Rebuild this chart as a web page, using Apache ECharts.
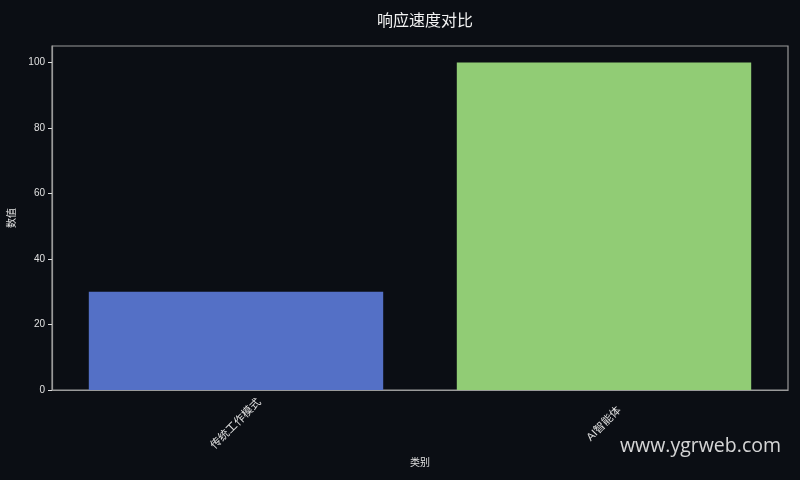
<!DOCTYPE html>
<html>
<head>
<meta charset="utf-8">
<title>响应速度对比</title>
<script src="https://cdn.jsdelivr.net/npm/echarts@6/dist/echarts.min.js"></script>
<style>
  html, body { margin: 0; padding: 0; background: #0b0e14; }
  #chart { width: 800px; height: 480px; }
</style>
</head>
<body>
<div id="chart"></div>
<script>
var categories = ['传统工作模式', 'AI智能体'];
var values = [30, 100];
var barColors = ['#5470c6', '#91cc75'];
var yTicks = [0, 20, 40, 60, 80, 100];

var font = '"Liberation Sans", "Noto Sans CJK SC", sans-serif';
var myChart = echarts.init(document.getElementById('chart'));

myChart.setOption({
    backgroundColor: '#0b0e14',
    animation: false,
    title: {
        text: '响应速度对比',
        left: 420,
        textAlign: 'center',
        top: 9,
        textStyle: {
            color: '#f2f2f2',
            fontSize: 16,
            fontWeight: 'normal',
            fontFamily: font
        }
    },
    grid: {
        left: 52,
        right: 12,
        top: 46,
        bottom: 90,
        outerBoundsMode: 'none',
        show: true,
        borderColor: '#9a9a9a',
        borderWidth: 1.2,
        backgroundColor: 'transparent'
    },
    xAxis: {
        type: 'category',
        data: categories,
        name: '类别',
        nameLocation: 'middle',
        nameGap: 68,
        nameTextStyle: { color: '#e0e0e0', fontSize: 10, fontFamily: font },
        axisLine: { lineStyle: { color: '#9a9a9a', width: 1.2 } },
        axisTick: { alignWithLabel: true, length: 4, lineStyle: { color: '#dddddd' } },
        axisLabel: {
            rotate: 45,
            align: 'center',
            verticalAlign: 'middle',
            color: '#e0e0e0',
            fontSize: 11,
            fontFamily: font,
            margin: 34
        }
    },
    yAxis: {
        type: 'value',
        min: 0,
        max: 105,
        interval: 20,
        name: '数值',
        nameLocation: 'middle',
        nameGap: 28,
        nameRotate: 90,
        nameTextStyle: { color: '#e0e0e0', fontSize: 10, fontFamily: font },
        splitLine: { show: false },
        axisLine: { show: true, lineStyle: { color: '#9a9a9a', width: 1.2 } },
        axisTick: { show: true, length: 4, customValues: yTicks, lineStyle: { color: '#dddddd' } },
        axisLabel: {
            color: '#e0e0e0',
            fontSize: 10,
            fontFamily: font,
            margin: 7,
            customValues: yTicks
        }
    },
    series: [{
        type: 'bar',
        barWidth: '80%',
        data: values.map(function (v, i) {
            return { value: v, itemStyle: { color: barColors[i] } };
        })
    }],
    graphic: [{
        type: 'text',
        right: 19,
        top: 436,
        style: {
            text: 'www.ygrweb.com',
            fill: 'rgba(235,235,235,0.9)',
            fontSize: 19.5,
            fontFamily: '"Open Sans", "Noto Sans", sans-serif'
        }
    }]
});
</script>
</body>
</html>
